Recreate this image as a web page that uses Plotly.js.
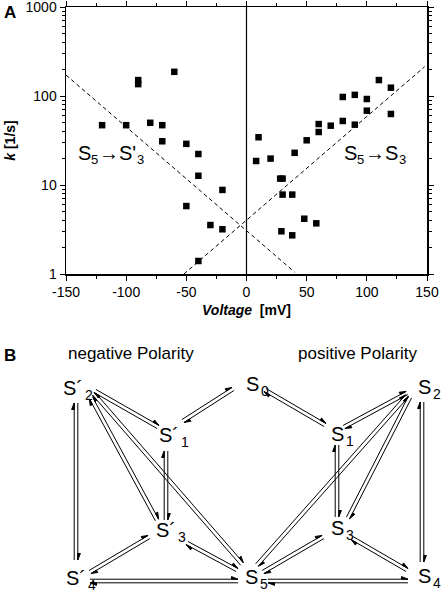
<!DOCTYPE html>
<html>
<head>
<meta charset="utf-8">
<script src="https://cdn.plot.ly/plotly-3.0.1.min.js"></script>
<style>html,body{margin:0;padding:0;background:#fff;}#chart{width:442px;height:594px;}</style>
</head>
<body>
<div id="chart"></div>
<script>
// ---------- Panel A data ----------
const voltageNeg = [-120, -100, -90, -90, -80, -70, -70, -60, -50, -50, -40, -40, -40, -30, -20, -20];
const rateNeg    = [47, 47, 151, 136, 50, 47, 31, 187, 29, 5.8, 22.3, 12.7, 1.4, 3.55, 8.8, 3.18];
const voltagePos = [8, 10, 20, 28, 30, 29, 30, 38, 38, 40, 48, 50, 58, 60, 60, 70, 80, 80, 90, 90, 100, 100, 110, 120, 120];
const ratePos    = [18.6, 34.4, 19.8, 11.8, 11.8, 3.02, 7.8, 7.8, 2.72, 23, 4.18, 31.8, 3.71, 48.4, 39.4, 46.4, 52.4, 97.5, 103, 47.6, 92.5, 68.4, 151, 124, 62.8];
// fitted lines (S5->S'3 and S5->S3)
const fitNegX = [-150, 40];
const fitNegY = [172, 1.05];
const fitPosX = [-52, 148];
const fitPosY = [1, 213];
const xTicks = [-150, -100, -50, 0, 50, 100, 150];
const xTickText = ["-150", "-100", "-50", "0", "50", "100", "150"];
const xMinorStep = 25;

// ---------- Panel B scheme ----------
const nodeNames = ["S´2", "S´1", "S´3", "S´4", "S0", "S1", "S2", "S3", "S4", "S5"];
const nodeMain  = ["S´", "S´", "S´", "S´", "S", "S", "S", "S", "S", "S"];
const nodeSub   = ["2", "1", "3", "4", "0", "1", "2", "3", "4", "5"];
const edgeFrom = ["S´2", "S´2", "S´2", "S´2", "S´1", "S´1", "S´3", "S´3", "S´4",
                  "S0", "S1", "S1", "S2", "S2", "S2", "S3", "S3", "S5"];
const edgeTo   = ["S´1", "S´3", "S5", "S´4", "S0", "S´3", "S´4", "S5", "S5",
                  "S1", "S2", "S3", "S3", "S5", "S4", "S5", "S4", "S4"];
const panelTitles = ["negative Polarity", "positive Polarity"];
const fitLabels = [["S", "5", "→S'", "3"], ["S", "5", "→S", "3"]];

// layout geometry (pixels in the 442x594 canvas)
const W = 442, H = 594;
const nodePos = {
  "S´2": [61, 388], "S´1": [157, 435], "S´3": [154, 530], "S´4": [64, 578],
  "S0": [244, 384], "S1": [329, 434], "S2": [416, 387], "S3": [329, 528], "S4": [416, 576], "S5": [243, 577]
};
const edgeGeom = [
  [95, 391, 158, 427], [91, 398, 157, 520], [94, 394, 242, 564], [76, 403, 76, 560],
  [183, 421, 233, 389], [166, 451, 166, 520], [149, 537, 90, 572], [187, 543, 237, 570], [90, 581, 238, 581],
  [265, 390, 325, 425], [344, 427, 407, 393], [337, 445, 337, 517], [410, 397, 348, 518],
  [407, 396, 257, 565], [422, 402, 422, 562], [323, 537, 263, 572], [352, 538, 407, 570], [268, 581, 408, 581]
];

const px = x => x / W;
const py = y => 1 - y / H;
const FONT = "Liberation Sans, Arial, Helvetica, sans-serif";
const ctx = document.createElement("canvas").getContext("2d");
function textWidth(t, size) { ctx.font = size + "px " + FONT; return ctx.measureText(t).width; }

const traces = [
  {x: voltageNeg, y: rateNeg, type: "scatter", mode: "markers",
   marker: {symbol: "square", size: 6.5, color: "#000"}, cliponaxis: false, hoverinfo: "skip"},
  {x: voltagePos, y: ratePos, type: "scatter", mode: "markers",
   marker: {symbol: "square", size: 6.5, color: "#000"}, cliponaxis: false, hoverinfo: "skip"},
  {x: fitNegX, y: fitNegY, type: "scatter", mode: "lines",
   line: {color: "#000", width: 1, dash: "4px,3px"}, hoverinfo: "skip"},
  {x: fitPosX, y: fitPosY, type: "scatter", mode: "lines",
   line: {color: "#000", width: 1, dash: "4px,3px"}, hoverinfo: "skip"}
];

const annotations = [];
function txt(x, y, text, size, xanchor) {
  annotations.push({xref: "paper", yref: "paper", x: px(x), y: py(y), text: text, showarrow: false,
    font: {size: size, family: FONT, color: "#000"}, xanchor: xanchor || "center", yanchor: "middle"});
}
txt(10, 12, "<b>A</b>", 17);
txt(10, 355, "<b>B</b>", 17);
txt(131, 354, panelTitles[0], 17);
txt(358, 354, panelTitles[1], 17);

const xScale = 361 / 300; // px per mV
function fitLabel(parts, xv, yv) {
  let x = xv;
  parts.forEach((p, i) => {
    const isSub = i % 2 === 1;
    const size = isSub ? 13 : 20;
    annotations.push({xref: "x", yref: "y", x: x, y: Math.log10(yv), text: p, showarrow: false,
      xanchor: "left", yanchor: "middle", font: {size: size, family: FONT, color: "#000"},
      yshift: isSub ? -7 : 0});
    x += (textWidth(p, size) + 0.5) / xScale;
  });
}
fitLabel(fitLabels[0], -142, 23);
fitLabel(fitLabels[1], 79, 23);

nodeNames.forEach((n, i) => {
  const p = nodePos[n];
  txt(p[0], p[1], nodeMain[i], 20, "left");
  const subX = p[0] + textWidth(nodeMain[i], 20) + 2;
  txt(subX, p[1] + 7, nodeSub[i], 14, "left");
});

const shapes = [{type: "line", xref: "x", yref: "y domain", x0: 0, x1: 0, y0: 0, y1: 1,
    line: {color: "#000", width: 1.2}}];
function harpoon(t, h, n) {
  const dx = h[0] - t[0], dy = h[1] - t[1];
  const L = Math.hypot(dx, dy);
  const ux = dx / L, uy = dy / L;
  const base = [h[0] - ux * 6.5, h[1] - uy * 6.5];
  const barb = [base[0] + n[0] * 2.6, base[1] + n[1] * 2.6];
  const P = p => px(p[0]).toFixed(5) + "," + py(p[1]).toFixed(5);
  return {type: "path", xref: "paper", yref: "paper",
    path: "M" + P(t) + " L" + P(h) + " M" + P(h) + " L" + P(barb) + " L" + P(base) + " Z",
    line: {color: "#000", width: 1}, fillcolor: "#000"};
}
edgeFrom.forEach((f, i) => {
  const g = edgeGeom[i];
  const dx = g[2] - g[0], dy = g[3] - g[1];
  const L = Math.hypot(dx, dy);
  const n = [dy / L, -dx / L];
  const o = 1.8;
  shapes.push(harpoon([g[0] + n[0] * o, g[1] + n[1] * o], [g[2] + n[0] * o, g[3] + n[1] * o], n));
  shapes.push(harpoon([g[2] - n[0] * o, g[3] - n[1] * o], [g[0] - n[0] * o, g[1] - n[1] * o], [-n[0], -n[1]]));
});

const xDom = [66 / W, 427 / W];
const yDom = [(H - 274) / H, (H - 7) / H];

const layout = {
  width: W, height: H,
  margin: {l: 0, r: 0, t: 0, b: 0},
  paper_bgcolor: "#fff", plot_bgcolor: "#fff",
  showlegend: false,
  font: {family: FONT, color: "#000", size: 14},
  xaxis: {domain: xDom, anchor: "y", range: [-150, 150], tickmode: "array", tickvals: xTicks, ticktext: xTickText,
    ticks: "outside", ticklen: 5, tickwidth: 1, tickcolor: "#000", ticklabeloverflow: "allow",
    minor: {ticks: "outside", ticklen: 3, tickwidth: 1, tickcolor: "#000", tickmode: "linear", tick0: 0, dtick: xMinorStep},
    showline: true, linecolor: "#000", linewidth: 1.5, mirror: "allticks", showgrid: false, zeroline: false,
    tickfont: {size: 14, family: FONT},
    title: {text: "<b><i>Voltage</i>  [mV]</b>", font: {size: 14, family: FONT}, standoff: 6}},
  yaxis: {domain: yDom, anchor: "x", type: "log", range: [0, 3], tickmode: "linear", tick0: 0, dtick: 1,
    exponentformat: "none",
    ticks: "outside", ticklen: 5, tickwidth: 1, tickcolor: "#000", ticklabeloverflow: "allow",
    minor: {ticks: "outside", ticklen: 3, tickwidth: 1, tickcolor: "#000", dtick: "D1"},
    showline: true, linecolor: "#000", linewidth: 1.5, mirror: "allticks", showgrid: false, zeroline: false,
    tickfont: {size: 14, family: FONT},
    title: {text: "<b><i>k</i> [1/s]</b>", font: {size: 14, family: FONT}, standoff: 6}},
  shapes: shapes,
  annotations: annotations
};

Plotly.newPlot("chart", traces, layout, {staticPlot: true, displayModeBar: false});
</script>
</body>
</html>
